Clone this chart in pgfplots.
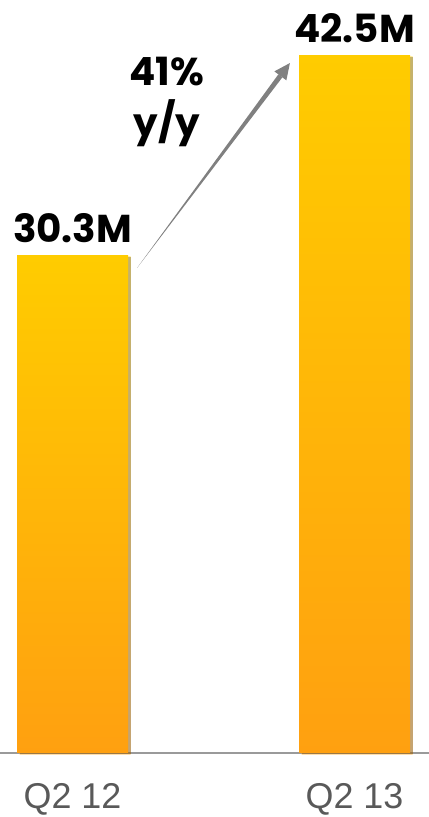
\documentclass[border=0pt]{standalone}
\usepackage{pgfplots}
\pgfplotsset{compat=1.18}
\usepackage{fontspec}
\setmainfont{Liberation Sans}
\newfontfamily\pop{Poppins}
\usetikzlibrary{calc,shadows}
\definecolor{bartop}{HTML}{FFCC00}
\definecolor{barbot}{HTML}{FFA010}
\definecolor{ticktext}{HTML}{595959}
\definecolor{basel}{HTML}{9A9A9A}
\definecolor{arrowgray}{HTML}{808080}
\newcommand{\lblfont}{\pop\bfseries\fontsize{39}{44}\selectfont}
\begin{document}
\begin{tikzpicture}
\begin{axis}[
  scale only axis, width=429bp, height=753bp,
  xmin=-0.2571, xmax=1.2642, ymin=0, ymax=45.86,
  hide y axis, axis line style={draw=none},
  xtick={0,1}, xticklabels={Q2 12, Q2 13},
  major tick length=0pt,
  xticklabel style={font=\fontsize{36}{40}\selectfont, text=ticktext, yshift=-27bp},
  clip=false,
]
\draw[basel, line width=1.5bp] (rel axis cs:0,0) -- (rel axis cs:1,0);
\addplot[ybar, bar width=111bp, bar shift=0pt, draw=none, top color=bartop, bottom color=barbot,
  drop shadow={shadow xshift=2.5bp, shadow yshift=-1.5bp, opacity=0.35, fill=black}]
  coordinates {(0,30.3)};
\addplot[ybar, bar width=111bp, bar shift=0pt, draw=none, top color=bartop, bottom color=barbot,
  drop shadow={shadow xshift=2.5bp, shadow yshift=-1.5bp, opacity=0.35, fill=black}]
  coordinates {(1,42.5)};
\addplot[draw=none, mark=none, nodes near coords, point meta=explicit symbolic,
  nodes near coords style={anchor=base, yshift=13bp, text=black, font=\lblfont}]
  coordinates {(0,30.3) [30.3M] (1,42.5) [42.5M]};
\node[anchor=base, font=\lblfont] at (axis cs:0.335,40.68) {41\%};
\node[anchor=base, font=\lblfont] at (axis cs:0.335,37.52) {y/y};
\coordinate (A) at (axis cs:0.229,29.54);
\coordinate (T) at (axis cs:0.771,42.02);
\coordinate (bl) at (rel axis cs:0,0);
\coordinate (tr) at (rel axis cs:1,1);
\end{axis}
\coordinate (H) at ($(T)!16bp!(A)$);
\fill[arrowgray] (A) -- ($(H)!2.5bp!90:(T)$) -- ($(H)!2.5bp!-90:(T)$) -- cycle;
\fill[arrowgray] (T) -- ($(H)!7.5bp!90:(T)$) -- ($(H)!7.5bp!-90:(T)$) -- cycle;
\pgfresetboundingbox
\path[use as bounding box] ($(bl)+(0,-64bp)$) rectangle (tr);
\end{tikzpicture}
\end{document}
